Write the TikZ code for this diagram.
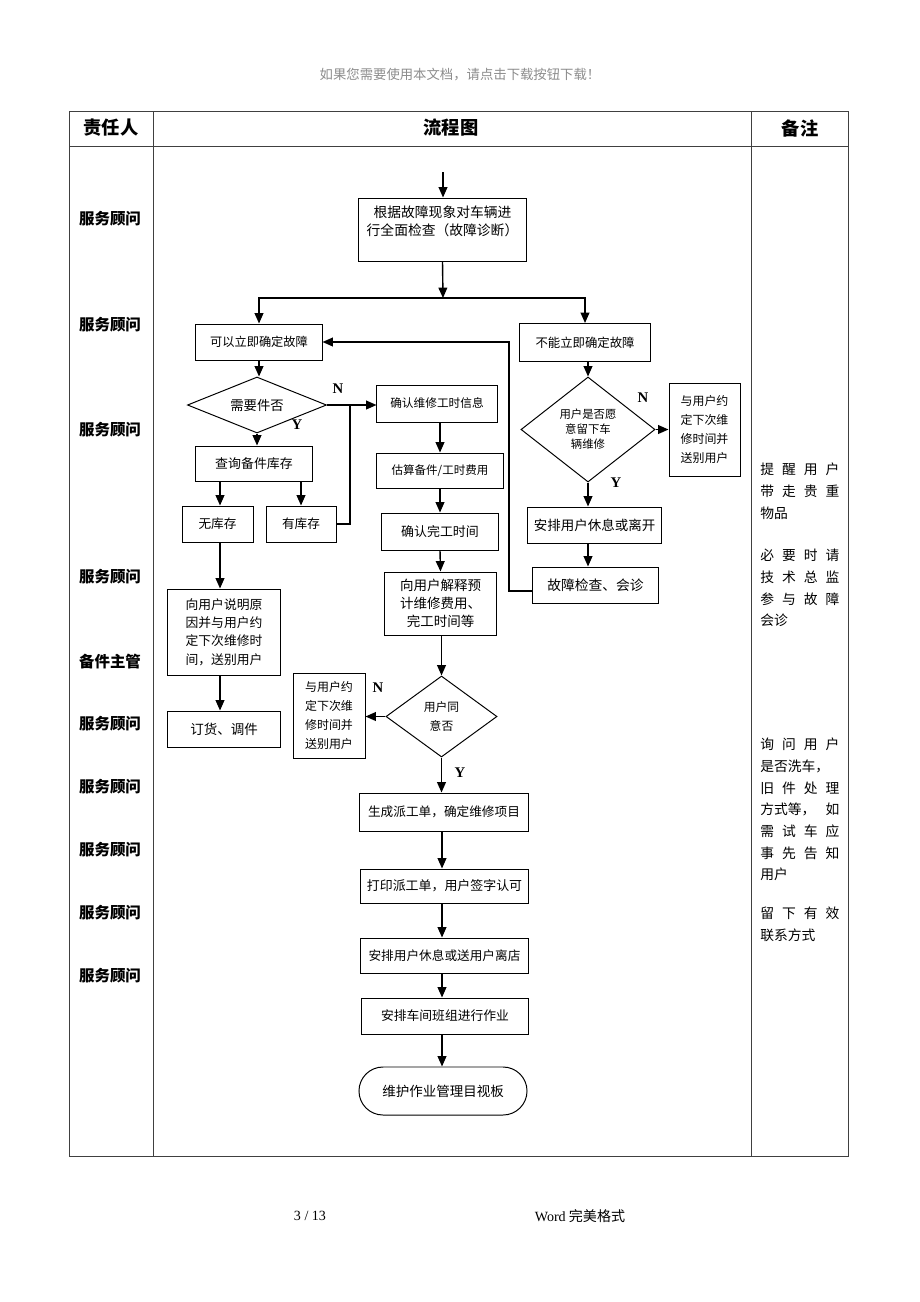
\documentclass[tikz,border=0pt]{standalone}
\usepackage{fontspec}
\setmainfont{Noto Sans CJK SC}
\newfontfamily\latinfont{Liberation Serif}
\usetikzlibrary{shapes.geometric,arrows.meta}
\begin{document}
\begin{tikzpicture}[x=0.025cm,y=-0.025cm,
    fs/.style={font=\fontsize{#1}{13}\selectfont},
    box/.style={draw,line width=0.7pt,rectangle,align=center,inner sep=2pt,fs=9},
    decide/.style={draw,line width=0.7pt,diamond,align=center,inner sep=1pt,fs=9},
    arr/.style={line width=1pt,-{Triangle[length=2.6mm,width=2.2mm]}},
    link/.style={line width=1pt},
    yn/.style={font=\latinfont\bfseries\fontsize{10.5}{12}\selectfont},
    role/.style={font=\bfseries\fontsize{11}{13}\selectfont},
    note/.style={anchor=north west,inner sep=0pt,text width=1.98cm,align=left,font=\fontsize{9.8}{15.4}\selectfont},
    frame/.style={line width=0.6pt,black!75}]
    \useasboundingbox (0,0) rectangle (920,1302);
    % page header and footer
    \node[text=black!45,fs=9.5] (mark) at (460,75) {如果您需要使用本文档，请点击下载按钮下载！};
    \node[font=\latinfont\fontsize{10}{12}\selectfont] (page) at (310,1216) {3 / 13};
    \node[fs=10] (word) at (580,1216) {{\latinfont Word} 完美格式};
    % table
    \draw[frame] (69,111) rectangle (848,1156);
    \draw[frame] (69,146) -- (848,146);
    \draw[frame] (153,111) -- (153,1156);
    \draw[frame] (751,111) -- (751,1156);
    \node[font=\bfseries\fontsize{13}{15}\selectfont] (hrole) at (111,128) {责任人};
    \node[font=\bfseries\fontsize{13}{15}\selectfont] (hflow) at (451,128) {流程图};
    \node[font=\bfseries\fontsize{13}{15}\selectfont] (hnote) at (800,128) {备注};
    % roles
    \node[role] (role1) at (110,219) {服务顾问};
    \node[role] (role2) at (110,325) {服务顾问};
    \node[role] (role3) at (110,430) {服务顾问};
    \node[role] (role4) at (110,577) {服务顾问};
    \node[role] (role5) at (110,662) {备件主管};
    \node[role] (role6) at (110,724) {服务顾问};
    \node[role] (role7) at (110,787) {服务顾问};
    \node[role] (role8) at (110,850) {服务顾问};
    \node[role] (role9) at (110,913) {服务顾问};
    \node[role] (role10) at (110,976) {服务顾问};
    % notes
    \node[note] (note1) at (760,463) {提\hfill 醒\hfill 用\hfill 户\\带\hfill 走\hfill 贵\hfill 重\\物品};
    \node[note] (note2) at (760,549) {必\hfill 要\hfill 时\hfill 请\\技\hfill 术\hfill 总\hfill 监\\参\hfill 与\hfill 故\hfill 障\\会诊};
    \node[note] (note3) at (760,738) {询\hfill 问\hfill 用\hfill 户\\是否洗车，\\旧\hfill 件\hfill 处\hfill 理\\方式等，\hfill 如\\需\hfill 试\hfill 车\hfill 应\\事\hfill 先\hfill 告\hfill 知\\用户};
    \node[note] (note4) at (760,907) {留\hfill 下\hfill 有\hfill 效\\联系方式};
    % flow nodes
    \coordinate (start) at (443,172);
    \node[box,fs=9.8,minimum width=4.175cm,minimum height=1.575cm] (diag) at (442.5,229.5) {根据故障现象对车辆进\\行全面检查（故障诊断）\\~};
    \coordinate (split) at (443,298);
    \node[box,fs=8.7,minimum width=3.15cm,minimum height=0.9cm] (can) at (259,342) {可以立即确定故障};
    \node[box,fs=8.8,minimum width=3.275cm,minimum height=0.95cm] (cannot) at (585,342.5) {不能立即确定故障};
    \node[decide,fs=9.5,aspect=2.5,minimum width=3.475cm,minimum height=1.4cm] (needpart) at (257,405) {需要件否};
    \node[box,fs=9.2,minimum width=2.9cm,minimum height=0.875cm] (query) at (254,463.5) {查询备件库存};
    \node[box,minimum width=1.775cm,minimum height=0.9cm] (nostock) at (217.5,524) {无库存};
    \node[box,minimum width=1.75cm,minimum height=0.9cm] (instock) at (301,524) {有库存};
    \coordinate (join) at (350,405);
    \node[box,fs=9.1,minimum width=2.8cm,minimum height=2.15cm] (explain1) at (224,632) {向用户说明原\\因并与用户约\\定下次维修时\\间，送别用户};
    \node[box,fs=9.6,minimum width=2.8cm,minimum height=0.9cm] (order) at (224,729) {订货、调件};
    \node[box,fs=8.3,minimum width=3cm,minimum height=0.925cm] (confirm) at (437,403.5) {确认维修工时信息};
    \node[box,fs=8.2,minimum width=3.15cm,minimum height=0.875cm] (estimate) at (440,470.5) {估算备件/工时费用};
    \node[box,fs=9.2,minimum width=2.9cm,minimum height=0.925cm] (finish) at (440,531.5) {确认完工时间};
    \node[box,fs=9.6,minimum width=2.775cm,minimum height=1.575cm] (explain2) at (440.5,603.5) {向用户解释预\\计维修费用、\\完工时间等};
    \node[decide,font=\fontsize{8.4}{13.5}\selectfont,aspect=1.4,minimum width=2.775cm,minimum height=2.025cm] (agree) at (441.5,716.5) {用户同\\意否};
    \node[box,font=\fontsize{8.5}{13.5}\selectfont,minimum width=1.8cm,minimum height=2.125cm] (later2) at (329,715.5) {与用户约\\定下次维\\修时间并\\送别用户};
    \node[decide,font=\fontsize{8.1}{10.6}\selectfont,aspect=1.3,minimum width=3.35cm,minimum height=2.625cm] (willing) at (588,429.5) {用户是否愿\\意留下车\\辆维修};
    \node[box,font=\fontsize{8.5}{13.5}\selectfont,minimum width=1.775cm,minimum height=2.325cm] (later1) at (704.5,429.5) {与用户约\\定下次维\\修时间并\\送别用户};
    \node[box,fs=9.6,minimum width=3.325cm,minimum height=0.9cm] (rest1) at (594.5,525) {安排用户休息或离开};
    \node[box,fs=9.8,minimum width=3.125cm,minimum height=0.9cm] (consult) at (595.5,585) {故障检查、会诊};
    \coordinate (back) at (509,342);
    \node[box,minimum width=4.2cm,minimum height=0.95cm] (dispatch) at (444,812) {生成派工单，确定维修项目};
    \node[box,fs=9.2,minimum width=4.175cm,minimum height=0.85cm] (print) at (444.5,886) {打印派工单，用户签字认可};
    \node[box,minimum width=4.175cm,minimum height=0.875cm] (rest2) at (444.5,955.5) {安排用户休息或送用户离店};
    \node[box,fs=9.1,minimum width=4.15cm,minimum height=0.9cm] (team) at (445,1016) {安排车间班组进行作业};
    \node[box,fs=9.6,rounded corners=0.6cm,minimum width=4.2cm,minimum height=1.2cm] (board) at (443,1091) {维护作业管理目视板};
    % connectors
    \draw[arr] (start) -- (start |- diag.north);
    \draw[arr] (diag.south) -- (split);
    \draw[arr] (split) -| (can.north);
    \draw[arr] (split) -| (cannot.north);
    \draw[arr] (can.south) -- (can.south |- needpart.north);
    \draw[arr] (needpart.east) -- (needpart.east -| confirm.west);
    \node[yn] (n1) at (338,389) {N};
    \node[yn] (y1) at (297,425) {Y};
    \draw[arr] (needpart.south) -- (needpart.south |- query.north);
    \draw[arr] (query.south -| 220,0) -- (nostock.north -| 220,0);
    \draw[arr] (query.south -| instock) -- (instock.north);
    \draw[link] (instock.east) -| (join);
    \draw[arr] (nostock.south -| 220,0) -- (explain1.north -| 220,0);
    \draw[arr] (explain1.south -| 220,0) -- (order.north -| 220,0);
    \draw[arr] (confirm.south -| 440,0) -- (estimate.north -| 440,0);
    \draw[arr] (estimate.south) -- (finish.north);
    \draw[arr] (finish.south) -- (explain2.north);
    \draw[arr] (explain2.south -| agree) -- (agree.north);
    \draw[arr] (agree.west) -- (agree.west -| later2.east);
    \node[yn] (n2) at (378,688) {N};
    \draw[arr] (agree.south) -- (agree.south |- dispatch.north);
    \node[yn] (y2) at (460,773) {Y};
    \draw[arr] (dispatch.south -| 442,0) -- (print.north -| 442,0);
    \draw[arr] (print.south -| 442,0) -- (rest2.north -| 442,0);
    \draw[arr] (rest2.south -| 442,0) -- (team.north -| 442,0);
    \draw[arr] (team.south -| 442,0) -- (board.north -| 442,0);
    \draw[arr] (cannot.south -| willing) -- (willing.north);
    \draw[arr] (willing.east) -- (willing.east -| later1.west);
    \node[yn] (n3) at (643,398) {N};
    \draw[arr] (willing.south) -- (willing.south |- rest1.north);
    \node[yn] (y3) at (616,483) {Y};
    \draw[arr] (rest1.south -| willing) -- (consult.north -| willing);
    \draw[arr] ([yshift=-0.15cm]consult.west) -| (back) -- (can.east);
\end{tikzpicture}
\end{document}
